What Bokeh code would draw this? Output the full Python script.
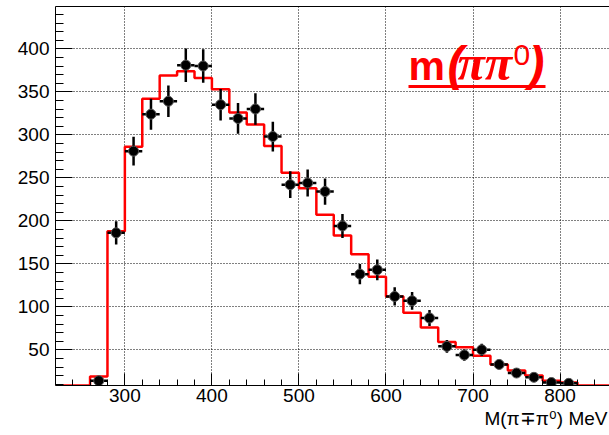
import numpy as np
from bokeh.plotting import figure
from bokeh.models import Range1d, SingleIntervalTicker, FixedTicker, LinearAxis, Label, BoxAnnotation, Title
from bokeh.embed import file_html
from bokeh.resources import INLINE

# ---- data ----
bin_centers = [270, 290, 310, 330, 350, 370, 390, 410, 430, 450, 470, 490, 510, 530,
               550, 570, 590, 610, 630, 650, 670, 690, 710, 730, 750, 770, 790, 810]
counts = [14, 186, 281, 324, 339, 381, 380, 335, 319, 330, 298, 242, 244, 234,
          194, 138, 143, 112, 107, 87, 54, 44, 50, 33, 23, 18, 12, 11]
count_errors = [3.7, 13.6, 16.8, 18.0, 18.4, 19.5, 19.5, 18.3, 17.9, 18.2, 17.3, 15.6, 15.6, 15.3,
                13.9, 11.7, 12.0, 10.6, 10.3, 9.3, 7.3, 6.6, 7.1, 5.7, 4.8, 4.2, 3.5, 3.3]
bin_half_width = 10

mc_edges = [220, 240, 260, 280, 300, 320, 340, 360, 380, 400, 420, 440, 460, 480, 500, 520, 540,
            560, 580, 600, 620, 640, 660, 680, 700, 720, 740, 760, 780, 800, 820, 840, 860]
mc_values = [0, 0, 19, 188, 286, 342, 369, 374, 366, 353, 326, 312, 287, 256, 238, 207,
             183, 161, 135, 112, 93, 76, 59, 53, 43, 33, 26, 20, 14, 12, 6, 4]

x_title = "M(π∓π⁰) MeV"

X0, X1 = 220.3, 856.8
Y0, Y1 = 8.5, 449.2

W, H = 609, 435
L, R, T, B = 55, 0, 6, 50
FW, FH = W - L - R, H - T - B


def px2x(px):
    return X0 + (px - L) * (X1 - X0) / FW


def py2y(py):
    return Y0 + (T + FH - py) * (Y1 - Y0) / FH


def base_y(py, size):
    # compensate the renderer's baseline offset
    return py2y(py - 0.36 * size)


p = figure(width=W, height=H, output_backend="svg", toolbar_location=None,
           x_range=Range1d(X0, X1), y_range=Range1d(Y0, Y1),
           min_border_left=L, min_border_right=R, min_border_top=T, min_border_bottom=B)
p.outline_line_color = None
p.background_fill_color = "white"
p.border_fill_color = "white"

xt = SingleIntervalTicker(interval=100, num_minor_ticks=5)
yt = SingleIntervalTicker(interval=50, num_minor_ticks=5)
p.xaxis.ticker = xt
p.yaxis.ticker = yt
p.xgrid.ticker = xt
p.ygrid.ticker = yt

for ax in (p.xaxis[0], p.yaxis[0]):
    ax.axis_line_color = "black"
    ax.axis_line_width = 1
    ax.major_tick_line_color = "black"
    ax.minor_tick_line_color = "black"
    ax.major_tick_out = 0
    ax.minor_tick_out = 0
    ax.major_label_text_font = "Liberation Sans"
    ax.major_label_text_font_size = "19px"
    ax.major_label_text_color = "black"
p.xaxis.major_tick_in = 12
p.xaxis.minor_tick_in = 6
p.xaxis.major_label_standoff = 3
p.yaxis.major_tick_in = 17
p.yaxis.minor_tick_in = 8
p.yaxis.major_label_standoff = 6

top = LinearAxis(ticker=FixedTicker(ticks=[]), major_tick_in=0, major_tick_out=0,
                 minor_tick_in=0, minor_tick_out=0, major_label_standoff=0,
                 axis_line_color="black", axis_line_width=1)
p.add_layout(top, "above")

p.add_layout(Title(text=x_title, align="right", text_font="Liberation Sans", text_font_style="normal",
                   text_font_size="19px", text_color="black", standoff=3, offset=2), "below")

p.grid.grid_line_color = "black"
p.grid.grid_line_dash = "1 2"
p.grid.grid_line_width = 1

# MC histogram (bins below the axis minimum are drawn on the frame bottom)
mc_plot = list(np.maximum(np.array(mc_values, dtype=float), Y0)) + [max(mc_values[-1], Y0)]
p.step(mc_edges, mc_plot, mode="after", line_color="#ff0000", line_width=2.5)

# data points with error bars
xc = np.array(bin_centers, dtype=float)
yc = np.array(counts, dtype=float)
ye = np.array(count_errors, dtype=float)
p.segment(x0=xc - bin_half_width, y0=yc, x1=xc + bin_half_width, y1=yc,
          line_color="black", line_width=2.5)
p.segment(x0=xc, y0=yc - ye, x1=xc, y1=yc + ye, line_color="black", line_width=2.5)
p.scatter(xc, yc, size=10, fill_color="black", line_color="#555555", line_width=1)

# title m(pi pi0)
red = "#ff0000"
p.add_layout(Label(x=px2x(408), y=base_y(80, 41), text="m", text_font="Liberation Sans",
                   text_font_style="bold", text_font_size="41px", text_color=red,
                   text_baseline="alphabetic"))
p.add_layout(Label(x=px2x(447), y=base_y(80, 48), text="(", text_font="Liberation Sans",
                   text_font_style="bold italic", text_font_size="48px", text_color=red,
                   text_baseline="alphabetic"))
p.add_layout(Label(x=px2x(457), y=base_y(80, 50), text="ππ", text_font="Liberation Serif",
                   text_font_style="bold italic", text_font_size="50px", text_color=red,
                   text_baseline="alphabetic"))
p.add_layout(Label(x=px2x(513), y=base_y(65, 30), text="0", text_font="Liberation Sans",
                   text_font_size="30px", text_color=red, text_baseline="alphabetic"))
p.add_layout(Label(x=px2x(528), y=base_y(80, 48), text=")", text_font="Liberation Sans",
                   text_font_style="bold italic", text_font_size="48px", text_color=red,
                   text_baseline="alphabetic"))
p.add_layout(BoxAnnotation(left=px2x(408), right=px2x(545), bottom=py2y(87.5), top=py2y(84.5),
                           fill_color=red, fill_alpha=1.0, line_color=None))

open("out.html", "w").write(file_html(p, INLINE))
